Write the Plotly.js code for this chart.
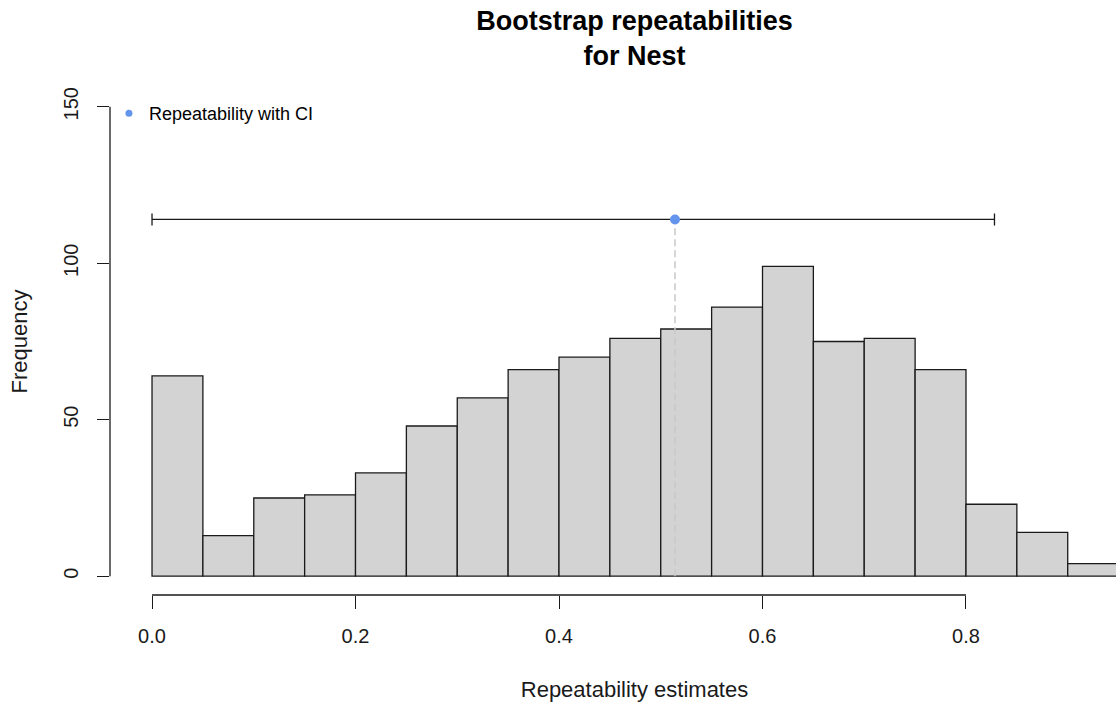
<!DOCTYPE html>
<html>
<head>
<meta charset="utf-8">
<script src="https://cdn.plot.ly/plotly-3.0.1.min.js"></script>
<style>
html, body { margin: 0; padding: 0; overflow: hidden; background: #fff; width: 1116px; height: 706px; }
#chart { width: 1160px; height: 706px; }
</style>
</head>
<body>
<div id="chart"></div>
<script>
// Histogram breaks (bin edges) and counts
const breaks = [0, 0.05, 0.10, 0.15, 0.20, 0.25, 0.30, 0.35, 0.40, 0.45, 0.50,
                0.55, 0.60, 0.65, 0.70, 0.75, 0.80, 0.85, 0.90, 0.95];
const counts = [64, 13, 25, 26, 33, 48, 57, 66, 70, 76, 79, 86, 99, 75, 76, 66, 23, 14, 4];

// Repeatability estimate with confidence interval
const estimate = 0.514;
const ciLower = 0.0;
const ciUpper = 0.828;
const ciHeight = 114;

// Axis ticks
const xTickVals = [0, 0.2, 0.4, 0.6, 0.8];
const xTickText = ["0.0", "0.2", "0.4", "0.6", "0.8"];
const yTickVals = [0, 50, 100, 150];
const yTickText = ["0", "50", "100", "150"];

const titleText = "Bootstrap repeatabilities<br>for Nest";
const xTitle = "Repeatability estimates";
const yTitle = "Frequency";
const legendLabel = "Repeatability with CI";

const mids = [], widths = [];
for (let i = 0; i < counts.length; i++) {
  mids.push((breaks[i] + breaks[i + 1]) / 2);
  widths.push(breaks[i + 1] - breaks[i]);
}

const FONT = "Liberation Sans, Arial, sans-serif";
const blue = "#6495ED";

const traces = [
  {
    type: "bar", x: mids, y: counts, width: widths,
    marker: { color: "#D3D3D3", line: { color: "#1a1a1a", width: 1.3 } },
    showlegend: false, hoverinfo: "x+y"
  },
  {
    type: "scatter", mode: "lines", x: [estimate, estimate], y: [0, ciHeight],
    line: { color: "#c8c8c8", width: 1.5, dash: "7px,4px" },
    showlegend: false, hoverinfo: "skip"
  },
  {
    type: "scatter", mode: "markers", x: [estimate], y: [ciHeight],
    marker: { color: blue, size: 10, symbol: "circle" },
    error_x: { type: "data", symmetric: false, array: [ciUpper - estimate],
               arrayminus: [estimate - ciLower], color: "#1a1a1a", thickness: 1.3, width: 6 },
    showlegend: false
  },
  {
    type: "scatter", mode: "markers", x: [null], y: [null], name: legendLabel,
    marker: { color: blue, size: 7, symbol: "circle" }, showlegend: true
  }
];

const layout = {
  width: 1160, height: 706,
  margin: { l: 110, r: 1, t: 88, b: 111 },
  paper_bgcolor: "#ffffff", plot_bgcolor: "#ffffff",
  font: { family: FONT, color: "#000000", size: 20 },
  title: {
    text: "<b>" + titleText + "</b>",
    font: { family: FONT, size: 27, color: "#000000" },
    x: 0.5, xref: "paper", xanchor: "center",
    y: 0.958, yref: "container", yanchor: "top"
  },
  xaxis: {
    range: [-0.0413, 0.9897], showgrid: false, zeroline: false, showline: false,
    tickmode: "array", tickvals: xTickVals, ticktext: xTickText,
    ticks: "outside", ticklen: 13, tickwidth: 1, tickcolor: "#1a1a1a",
    ticklabelstandoff: 10,
    tickfont: { family: FONT, size: 20, color: "#1a1a1a" },
    title: { text: xTitle, font: { family: FONT, size: 22, color: "#1a1a1a" }, standoff: 35 },
    fixedrange: true
  },
  yaxis: {
    range: [-6, 156], showgrid: false, zeroline: false, showline: false,
    tickmode: "array", tickvals: yTickVals, ticktext: yTickText, tickangle: -90,
    ticks: "outside", ticklen: 12, tickwidth: 1, tickcolor: "#1a1a1a",
    ticklabelstandoff: 11,
    tickfont: { family: FONT, size: 20, color: "#1a1a1a" },
    title: { text: yTitle, font: { family: FONT, size: 22, color: "#1a1a1a" }, standoff: 26 },
    fixedrange: true
  },
  shapes: [
    { type: "line", xref: "x", yref: "paper", x0: xTickVals[0], x1: xTickVals[xTickVals.length - 1],
      y0: 0, y1: 0, line: { color: "#1a1a1a", width: 1.3 } },
    { type: "line", xref: "paper", yref: "y", x0: 0, x1: 0,
      y0: yTickVals[0], y1: yTickVals[yTickVals.length - 1], line: { color: "#1a1a1a", width: 1.3 } }
  ],
  showlegend: true,
  legend: {
    x: -0.001, xanchor: "left", xref: "paper",
    y: 0.986, yanchor: "top", yref: "paper",
    bgcolor: "rgba(0,0,0,0)", borderwidth: 0,
    font: { family: FONT, size: 18, color: "#000000" },
    itemwidth: 30
  },
  bargap: 0
};

Plotly.newPlot("chart", traces, layout, { displayModeBar: false, staticPlot: true });
</script>
</body>
</html>
